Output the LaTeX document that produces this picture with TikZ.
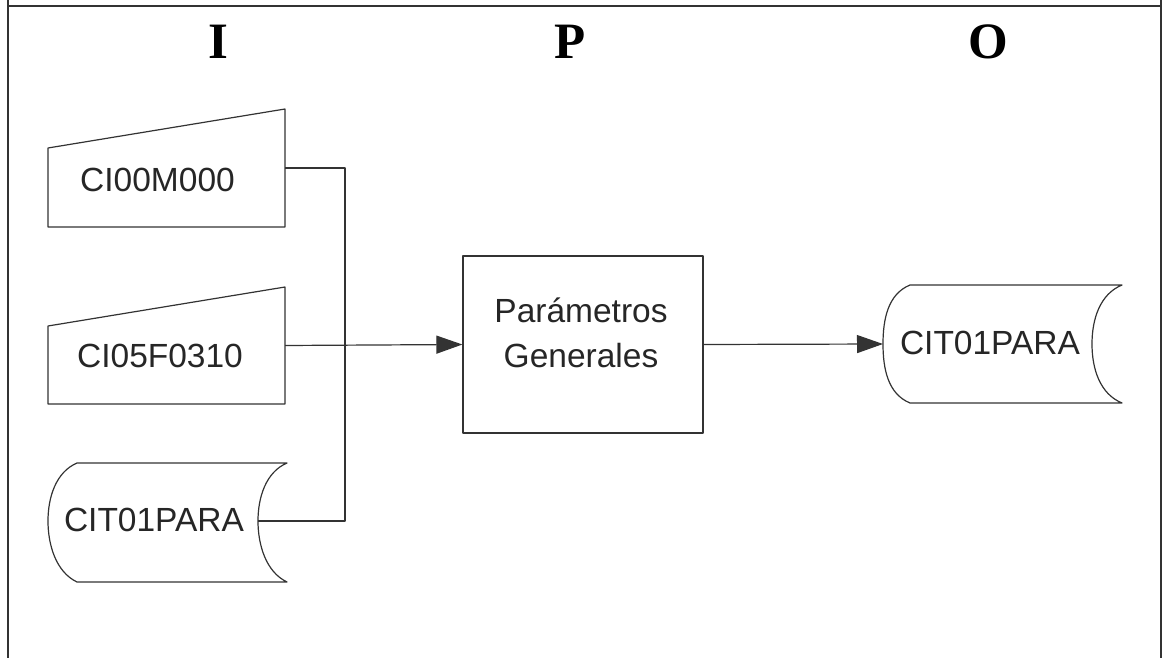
\documentclass[tikz,border=0pt]{standalone}
\usepackage{fontspec}
\setmainfont{Liberation Sans}
\newfontfamily\headfont{Liberation Serif}
\usetikzlibrary{arrows.meta,calc}
\tikzset{
  ln/.style={line width=1.2pt, draw=black!80, line join=round},
  arr/.style={ln, -{Triangle[length=26pt,width=18pt]}},
  lbl/.style={font=\fontsize{33.5}{38}\selectfont, text=black!85, inner sep=0pt},
  head/.style={font=\headfont\bfseries\fontsize{51}{55}\selectfont, inner sep=0pt},
  area/.style={inner sep=0pt, outer sep=0pt}
}
\begin{document}
\begin{tikzpicture}[x=1pt,y=-1pt]
\useasboundingbox (0,0) rectangle (1163,658);
% frame
\draw[ln] (8,0) -- (8,658);
\draw[ln] (1161,0) -- (1161,658);
\draw[ln] (8,6) -- (1161,6);
% headings
\node[head] (hI) at (218,42) {I};
\node[head] (hP) at (570,42) {P};
\node[head] (hO) at (988,42) {O};
% manual input 1
\node[area, minimum width=237pt, minimum height=118pt] (in1) at (166.5,168) {};
\draw[ln] (in1.south west) -- (in1.south east) -- (in1.north east) -- ($(in1.north west)+(0,39)$) -- cycle;
\node[lbl] (t1) at (157.5,180) {CI00M000};
% manual input 2
\node[area, minimum width=237pt, minimum height=117pt] (in2) at (166.5,345.5) {};
\draw[ln] (in2.south west) -- (in2.south east) -- (in2.north east) -- ($(in2.north west)+(0,39)$) -- cycle;
\node[lbl] (t2) at (160,356) {CI05F0310};
% storage input
\coordinate (s1r) at (258,521);
\draw[ln] (77,463) -- (287,463)
  .. controls (266,472) and (258,497) .. (s1r)
  .. controls (258,545) and (266,572) .. (287,582)
  -- (77,582)
  .. controls (56,572) and (48,545) .. (48,521)
  .. controls (48,497) and (56,472) .. (77,463) -- cycle;
\node[lbl] (t3) at (154,520) {CIT01PARA};
% process
\node[ln, draw, minimum width=240pt, minimum height=177pt, inner sep=0pt] (proc) at (583,344.5) {};
\node[lbl, align=center] (t4) at (581,333) {Parámetros\\[7pt]Generales};
% storage output
\coordinate (s2l) at (883,344);
\draw[ln] (910,285) -- (1122,285)
  .. controls (1100,294) and (1092,319) .. (1092,344)
  .. controls (1092,369) and (1100,394) .. (1122,403)
  -- (910,403)
  .. controls (888,394) and (883,369) .. (s2l)
  .. controls (883,319) and (888,294) .. (910,285) -- cycle;
\node[lbl] (t5) at (990,343) {CIT01PARA};
% connectors
\coordinate (j) at (345,168);
\draw[ln] (in1.east) -- (j) |- (s1r);
\draw[arr] (in2.east) -- (proc.west);
\draw[arr] (proc.east) -- (s2l);
\end{tikzpicture}
\end{document}
